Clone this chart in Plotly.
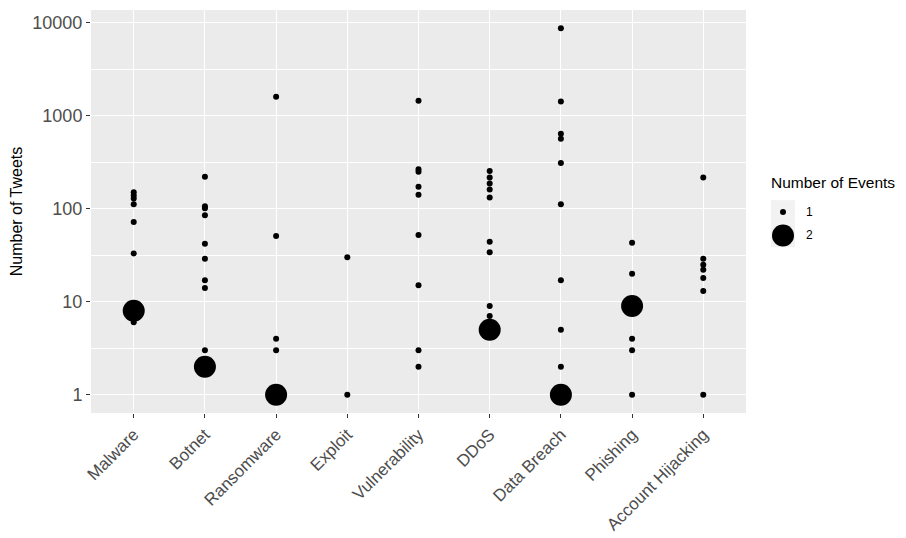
import plotly.graph_objects as go

# ---------------- data ----------------
categories = ["Malware", "Botnet", "Ransomware", "Exploit", "Vulnerability",
              "DDoS", "Data Breach", "Phishing", "Account Hijacking"]

# tweets for threats mentioned in ONE event
malware_1 = [150, 139, 129, 112, 72, 33, 6]
botnet_1 = [220, 106, 101, 85, 42, 29, 17, 14, 3]
ransomware_1 = [1600, 51, 4, 3]
exploit_1 = [30, 1]
vulnerability_1 = [1445, 265, 250, 172, 141, 52, 15, 3, 2]
ddos_1 = [255, 217, 187, 161, 132, 44, 34, 9, 7]
data_breach_1 = [8700, 1420, 640, 565, 311, 112, 17, 5, 2]
phishing_1 = [43, 20, 4, 3, 1]
account_hijacking_1 = [217, 29, 25, 22, 18, 13, 1]

# tweets for threats mentioned in TWO events
malware_2 = [8]
botnet_2 = [2]
ransomware_2 = [1]
ddos_2 = [5]
data_breach_2 = [1]
phishing_2 = [9]

y_tick_vals = [1, 10, 100, 1000, 10000]
y_tick_text = ["1", "10", "100", "1000", "10000"]
y_minor_vals = [10 ** 0.5, 10 ** 1.5, 10 ** 2.5, 10 ** 3.5]

legend_title = "Number of Events"
legend_labels = ["1", "2"]

one_event = dict(zip(categories, [malware_1, botnet_1, ransomware_1, exploit_1,
                                  vulnerability_1, ddos_1, data_breach_1,
                                  phishing_1, account_hijacking_1]))
two_events = {"Malware": malware_2, "Botnet": botnet_2, "Ransomware": ransomware_2,
              "DDoS": ddos_2, "Data Breach": data_breach_2, "Phishing": phishing_2}

x1, y1 = [], []
for c, vals in one_event.items():
    x1 += [c] * len(vals)
    y1 += vals
x2, y2 = [], []
for c, vals in two_events.items():
    x2 += [c] * len(vals)
    y2 += vals

# ---------------- layout geometry ----------------
# the page body has an 8px margin, so the figure starts at (8, 8) in the window
OFF = 8
W, H = 906 - OFF, 538 - OFF
PL, PR, PT, PB = 91 - OFF, 746 - OFF, 10 - OFF, 412.6 - OFF
PW, PH = PR - PL, PB - PT


def px(x):  # window pixel -> paper
    return (x - OFF - PL) / PW


def py(y):
    return (PB - (y - OFF)) / PH


FONT = "Liberation Sans, Arial, Helvetica, sans-serif"

fig = go.Figure()
fig.add_trace(go.Scatter(x=x1, y=y1, mode="markers", name=legend_labels[0],
                         marker=dict(size=6, color="black", line=dict(width=0)),
                         showlegend=False, cliponaxis=False))
fig.add_trace(go.Scatter(x=x2, y=y2, mode="markers", name=legend_labels[1],
                         marker=dict(size=22, color="black", line=dict(width=0)),
                         showlegend=False, cliponaxis=False))

fig.update_layout(
    width=W, height=H,
    margin=dict(l=PL, r=W - PR, t=PT, b=H - PB, pad=0, autoexpand=False),
    paper_bgcolor="white",
    plot_bgcolor="#EBEBEB",
    font=dict(family=FONT, color="#4D4D4D"),
    showlegend=False,
)

fig.update_xaxes(
    type="category",
    categoryorder="array", categoryarray=categories,
    range=[-0.6, len(categories) - 1 + 0.6],
    automargin=False,
    showgrid=True, gridcolor="white", gridwidth=1.2,
    zeroline=False, showline=False,
    ticks="outside", ticklen=4, tickcolor="#333333", tickwidth=1,
    tickangle=-45,
    tickfont=dict(size=17, color="#4D4D4D", family=FONT),
)

fig.update_yaxes(
    type="log",
    range=[-0.197, 4.137],
    automargin=False,
    tickvals=y_tick_vals, ticktext=y_tick_text,
    showgrid=True, gridcolor="white", gridwidth=1.2,
    minor=dict(tickvals=y_minor_vals, showgrid=True, gridcolor="white",
               gridwidth=0.6, ticklen=0),
    zeroline=False, showline=False,
    ticks="outside", ticklen=4, tickcolor="#333333", tickwidth=1,
    tickfont=dict(size=18, color="#4D4D4D", family=FONT),
    title=dict(text="Number of Tweets", font=dict(size=16, color="black", family=FONT),
               standoff=6),
)

# ---------------- manual legend (ggplot style) ----------------
fig.add_annotation(text=legend_title, xref="paper", yref="paper",
                   x=px(769), y=py(182), xanchor="left", yanchor="middle",
                   showarrow=False, font=dict(size=15.5, color="black", family=FONT))
keys = [(200, 223.5, 6), (223.5, 247, 22)]
for (ytop, ybot, d), lab in zip(keys, legend_labels):
    fig.add_shape(type="rect", xref="paper", yref="paper",
                  x0=px(771), x1=px(795), y0=py(ybot), y1=py(ytop),
                  fillcolor="#F2F2F2", line=dict(width=0), layer="above")
    cy = (ytop + ybot) / 2
    fig.add_shape(type="circle", xref="paper", yref="paper",
                  xsizemode="pixel", ysizemode="pixel",
                  xanchor=px(783), yanchor=py(cy),
                  x0=-d / 2, x1=d / 2, y0=-d / 2, y1=d / 2,
                  fillcolor="black", line=dict(width=0), layer="above")
    fig.add_annotation(text=lab, xref="paper", yref="paper",
                       x=px(804), y=py(cy), xanchor="left", yanchor="middle",
                       showarrow=False, font=dict(size=12, color="black", family=FONT))

fig.write_html("out.html")
